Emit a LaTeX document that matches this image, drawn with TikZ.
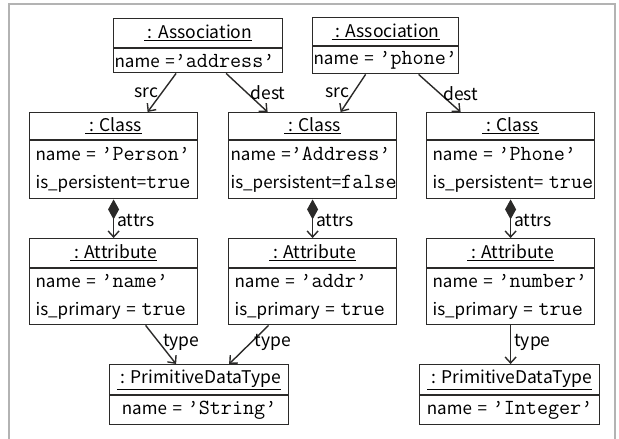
\documentclass[tikz,border=0pt]{standalone}
\usepackage{fontspec}
\setmainfont{Noto Sans CJK JP}
\usetikzlibrary{arrows.meta}

\definecolor{ink}{HTML}{2B2A29}
\definecolor{framegray}{HTML}{B3B3B3}

% attribute values are set in typewriter
\newcommand{\val}[1]{{\ttfamily\fontsize{21.5}{28}\selectfont #1}}

\tikzset{
	objhead/.style={draw=ink, line width=1.2pt, anchor=north west, inner sep=0pt, font=\fontsize{17.5}{28}\selectfont},
	objbody/.style={draw=ink, line width=1.2pt, anchor=north west, inner xsep=6pt, inner ysep=0pt, align=left, font=\fontsize{17}{28}\selectfont},
	link/.style={draw=ink, line width=1.4pt, -{Straight Barb[length=6pt,width=11pt]}},
	part/.style={draw=ink, line width=1.4pt, {Diamond[length=20pt,width=11pt]}-{Straight Barb[length=6pt,width=11pt]}},
	lbl/.style={inner sep=3pt, font=\fontsize{17.5}{20}\selectfont}
}

\begin{document}
\begin{tikzpicture}[x=1pt, y=-1pt]
	\useasboundingbox (0,0) rectangle (619,439);
	\draw[framegray, line width=2pt] (9,439) -- (9,4) -- (615,4) -- (615,439);

	% associations
	\node[objhead, minimum width=169pt, minimum height=29pt] (assocA) at (113,18) {\underline{\ : Association}};
	\node[objbody, text width=167pt, minimum height=24pt, inner xsep=1pt] (assocA-b) at (assocA.south west) {name~=\val{’address’}};
	\node[objhead, minimum width=146pt, minimum height=28pt] (assocB) at (312,17) {\underline{\ : Association}};
	\node[objbody, text width=144pt, minimum height=27pt, inner xsep=1pt] (assocB-b) at (assocB.south west) {name~=~\val{’phone’}};

	% classes
	\node[objhead, minimum width=168pt, minimum height=27pt] (classA) at (29,112) {\underline{\ : Class}};
	\node[objbody, text width=156pt, minimum height=58pt] (classA-b) at (classA.south west) {name~=~\val{’Person’}\\is\_persistent=\val{true}};
	\node[objhead, minimum width=168pt, minimum height=27pt] (classB) at (228,112) {\underline{\ : Class}};
	\node[objbody, text width=164pt, minimum height=58pt, inner xsep=2pt] (classB-b) at (classB.south west) {name~=\val{’Address’}\\is\_persistent=\val{false}};
	\node[objhead, minimum width=168pt, minimum height=27pt] (classC) at (426,112) {\underline{\ : Class}};
	\node[objbody, text width=156pt, minimum height=58pt] (classC-b) at (classC.south west) {name~=~\val{’Phone’}\\is\_persistent=~\val{true}};

	% attributes
	\node[objhead, minimum width=168pt, minimum height=29pt] (attrA) at (29,238) {\underline{\ : Attribute}};
	\node[objbody, text width=156pt, minimum height=56pt] (attrA-b) at (attrA.south west) {name~=~\val{’name’}\\is\_primary~=~\val{true}};
	\node[objhead, minimum width=168pt, minimum height=29pt] (attrB) at (228,238) {\underline{\ : Attribute}};
	\node[objbody, text width=156pt, minimum height=56pt] (attrB-b) at (attrB.south west) {name~=~\val{’addr’}\\is\_primary~=~\val{true}};
	\node[objhead, minimum width=168pt, minimum height=29pt] (attrC) at (426,238) {\underline{\ : Attribute}};
	\node[objbody, text width=156pt, minimum height=56pt] (attrC-b) at (attrC.south west) {name~=~\val{’number’}\\is\_primary~=~\val{true}};

	% primitive types
	\node[objhead, minimum width=179pt, minimum height=30pt] (typeA) at (109,364) {\underline{\ : PrimitiveDataType}};
	\node[objbody, text width=171pt, minimum height=29pt, inner xsep=4pt, align=center] (typeA-b) at (typeA.south west) {name~=~\val{’String’}};
	\node[objhead, minimum width=180pt, minimum height=30pt] (typeB) at (419,364) {\underline{\ : PrimitiveDataType}};
	\node[objbody, text width=172pt, minimum height=29pt, inner xsep=4pt, align=center] (typeB-b) at (typeB.south west) {name~=~\val{’Integer’}};

	% src / dest links
	\draw[link] ([xshift=-22pt]assocA-b.south) -- node[lbl, left] {src} ([xshift=34pt]classA.north);
	\draw[link] ([xshift=28pt]assocA-b.south) -- node[lbl, right] {dest} ([xshift=-45pt]classB.north);
	\draw[link] ([xshift=-20pt]assocB-b.south) -- node[lbl, left] {src} ([xshift=28pt]classB.north);
	\draw[link] ([xshift=33pt]assocB-b.south) -- node[lbl, right] {dest} ([xshift=-50pt]classC.north);

	% composition
	\draw[part] (classA-b.south) -- node[lbl, right, pos=0.55] {attrs} (attrA.north);
	\draw[part] (classB-b.south) -- node[lbl, right, pos=0.55] {attrs} (attrB.north);
	\draw[part] (classC-b.south) -- node[lbl, right, pos=0.55] {attrs} (attrC.north);

	% types
	\draw[link] ([xshift=32pt]attrA-b.south) -- node[lbl, right, pos=0.45] {type} ([xshift=-23pt]typeA.north);
	\draw[link] ([xshift=-44pt]attrB-b.south) -- node[lbl, right, pos=0.45] {type} ([xshift=30pt]typeA.north);
	\draw[link] (attrC-b.south) -- node[lbl, right, pos=0.45] {type} (attrC-b.south |- typeB.north);
\end{tikzpicture}
\end{document}
